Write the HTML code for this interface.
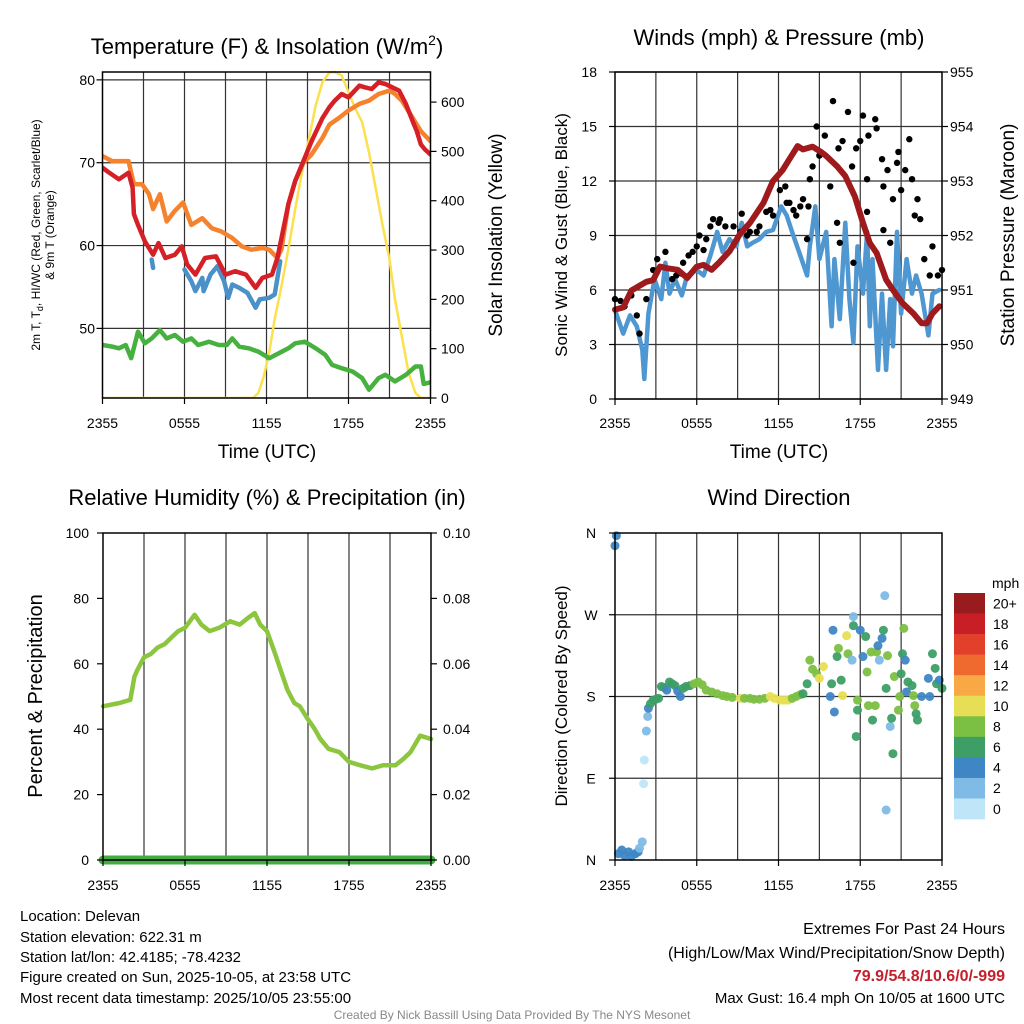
<!DOCTYPE html>
<html><head><meta charset="utf-8">
<style>
html,body{margin:0;padding:0;background:#fff;}
svg{display:block;font-family:"Liberation Sans",Arial,sans-serif;}
</style></head>
<body>
<svg id="fig" width="1024" height="1024" viewBox="0 0 1024 1024" xmlns="http://www.w3.org/2000/svg">
<rect x="0" y="0" width="1024" height="1024" fill="#fff"/>
<g id="layer"></g>
<g font-size="22" fill="#000" text-anchor="middle">
<text x="267" y="54">Temperature (F) &amp; Insolation (W/m<tspan font-size="14" dy="-9">2</tspan><tspan dy="9">)</tspan></text>
<text x="779" y="45">Winds (mph) &amp; Pressure (mb)</text>
<text x="267" y="505">Relative Humidity (%) &amp; Precipitation (in)</text>
<text x="779" y="505">Wind Direction</text>
</g>
<g font-size="19" text-anchor="middle">
<text x="267" y="458">Time (UTC)</text>
<text x="779" y="458">Time (UTC)</text>
<text transform="translate(502,235) rotate(-90)">Solar Insolation (Yellow)</text>
<text transform="translate(1014,235) rotate(-90)">Station Pressure (Maroon)</text>
<text transform="translate(42,696) rotate(-90)" font-size="20">Percent &amp; Precipitation</text>
<text transform="translate(567,235) rotate(-90)" font-size="17">Sonic Wind &amp; Gust (Blue, Black)</text>
<text transform="translate(567,696) rotate(-90)" font-size="17">Direction (Colored By Speed)</text>
</g>
<g font-size="12" text-anchor="middle">
<text transform="translate(40,235) rotate(-90)">2m T, T<tspan font-size="9" dy="3">d</tspan><tspan dy="-3">, HI/WC (Red, Green, Scarlet/Blue)</tspan></text>
<text transform="translate(54,235) rotate(-90)">&amp; 9m T (Orange)</text>
</g>
<g font-size="15">
<text x="20" y="921">Location: Delevan</text>
<text x="20" y="942">Station elevation: 622.31 m</text>
<text x="20" y="962">Station lat/lon: 42.4185; -78.4232</text>
<text x="20" y="982">Figure created on Sun, 2025-10-05, at 23:58 UTC</text>
<text x="20" y="1003">Most recent data timestamp: 2025/10/05 23:55:00</text>
</g>
<g font-size="16" text-anchor="end">
<text x="1005" y="934">Extremes For Past 24 Hours</text>
<text x="1005" y="958">(High/Low/Max Wind/Precipitation/Snow Depth)</text>
<text x="1005" y="981" fill="#c4202b" font-weight="bold">79.9/54.8/10.6/0/-999</text>
<text x="1005" y="1003" font-size="15">Max Gust: 16.4 mph On 10/05 at 1600 UTC</text>
</g>
<text x="512" y="1019" font-size="12" fill="#888" text-anchor="middle">Created By Nick Bassill Using Data Provided By The NYS Mesonet</text>
</svg>
<script>
// ---------- Temperature panel data (hours since 2355 UTC) ----------
const tempT = [0,0.4,1.2,1.9,2.2,2.3,2.6,3.1,3.7,4.1,4.6,5.3,5.8,6.2,6.8,7.5,8.3,9.0,9.7,10.5,11.2,11.7,12.4,12.8,13.1,13.6,14.1,14.7,15.3,16.1,16.6,17.0,17.5,18.0,18.8,19.2,19.7,20.2,20.7,21.2,21.7,22.2,22.7,23.0,23.3,23.6,24.0];
const tempV = [69.4,68.9,68.0,68.8,67.0,63.8,62.5,60.5,58.9,60.3,58.5,58.9,59.9,57.7,56.5,58.5,58.7,56.5,56.9,56.5,54.9,56.1,56.5,58.5,60.9,65.0,67.8,70.2,72.6,75.4,76.7,77.5,78.3,77.9,79.3,79.1,78.9,79.7,79.5,79.1,78.7,77.1,75.0,73.8,72.2,71.6,71.0];
const t9T = [0,0.7,1.4,1.9,2.3,2.9,3.4,3.7,4.2,4.7,5.3,5.9,6.5,7.3,8.0,8.7,9.5,10.2,10.9,11.7,12.2,12.8,13.1,13.6,14.1,14.7,15.3,16.1,16.6,17.3,18.0,18.8,19.5,20.2,21.0,21.4,21.9,22.7,23.3,24.0];
const t9V = [70.8,70.2,70.2,70.2,67.4,67.4,66.2,64.4,66.2,62.9,64.2,65.2,62.5,63.3,62.1,61.7,60.9,59.9,59.5,59.7,59.5,58.5,59.6,65.0,67.8,70.0,71.0,73.0,74.6,75.4,76.3,77.1,77.5,78.3,78.7,78.3,77.5,75.4,73.8,72.6];
const wcT = [3.6,3.7,3.8,6.0,6.5,6.8,7.3,7.4,7.9,8.4,8.9,9.2,9.5,10.0,10.6,11.2,11.5,12.2,12.6,13.0];
const wcV = [58.3,57.3,null,57.1,55.7,54.5,56.1,54.5,56.5,57.5,55.7,53.7,55.3,54.9,54.3,52.5,53.5,53.7,54.1,58.1];
const tdT = [0,0.7,1.2,1.7,2.1,2.6,3.1,3.6,4.2,4.7,5.3,5.9,6.5,7.0,7.8,8.5,9.1,9.5,10.0,10.7,11.4,12.2,12.9,13.6,14.1,14.8,15.6,16.3,16.8,17.5,18.3,19.0,19.5,20.2,20.7,21.4,22.2,22.9,23.3,23.5,24.0];
const tdV = [48.0,47.8,47.6,48.0,46.4,49.6,48.2,48.8,49.8,48.8,49.2,48.4,48.8,48.0,48.4,48.0,48.0,48.8,47.8,47.6,47.2,46.4,47.0,47.6,48.2,48.4,47.6,46.8,45.6,45.2,44.8,44.0,42.6,44.0,44.4,43.6,44.4,45.4,45.4,43.3,43.5];
const solT = [0,11.0,11.4,11.8,12.2,12.6,13.1,13.6,14.1,14.6,15.1,15.6,16.1,16.6,17.0,17.5,18.0,18.5,19.0,19.5,20.0,20.5,21.0,21.4,21.9,22.4,22.9,23.3,24.0];
const solV = [0,0,10,44,92,160,227,302,383,458,525,593,641,660,661,654,620,587,559,498,424,349,281,200,125,51,10,0,0];
const tempTicks = [50,60,70,80];
const solTicks = [0,100,200,300,400,500,600];
const timeTickLabels = ["2355","0555","1155","1755","2355"];
const timeTickHours = [0,6,12,18,24];

// ---------- Wind panel data ----------
const windT = [0,0.6,1.1,1.6,2.0,2.15,2.45,2.9,3.4,3.7,4.0,4.4,4.9,5.3,6.0,6.5,7.0,7.5,7.9,8.4,8.9,9.3,9.7,10.1,10.6,11.1,11.6,12.2,12.6,13.0,13.6,14.1,14.3,14.7,15.0,15.5,15.9,16.1,16.5,16.9,17.2,17.5,17.8,18.2,18.5,18.7,18.9,19.3,19.6,19.9,20.2,20.4,20.7,21.0,21.4,21.8,22.1,22.5,23.0,23.3,23.8];
const windV = [4.9,3.6,4.6,4.0,2.7,1.1,4.7,6.6,5.5,7.5,5.8,6.6,5.7,6.8,7.1,6.8,7.9,9.2,8.1,8.8,8.4,9.7,8.4,8.6,8.8,9.2,9.3,10.6,10.1,9.2,7.9,6.8,8.4,10.6,7.7,9.2,4.0,7.7,4.4,9.7,5.5,3.1,8.4,5.8,9.2,4.0,7.7,1.6,5.8,1.6,5.5,2.9,9.2,4.7,7.7,5.8,6.8,5.8,3.5,5.8,6.0];
const gustT = [0,0.4,0.7,1.2,1.6,1.8,2.3,2.8,3.1,3.7,4.2,4.5,4.9,5.0,5.4,5.7,6.0,6.2,6.5,6.7,7.0,7.2,7.6,7.7,8.1,8.7,9.2,9.3,9.7,9.9,10.4,10.6,11.1,11.4,11.6,12.1,12.5,12.6,12.8,13.1,13.3,13.6,13.8,14.1,14.2,14.3,14.5,14.8,15.0,15.4,15.8,16.0,16.3,16.4,16.5,16.7,17.1,17.4,17.5,17.7,18.0,18.2,18.5,18.5,18.6,19.1,19.2,19.6,19.7,19.7,20.0,20.2,20.4,20.7,20.8,21.0,21.3,21.6,21.8,22.0,22.2,22.4,22.7,23.1,23.3,23.7,24.0];
const gustV = [5.5,5.4,5.1,5.7,4.6,3.6,5.5,7.1,7.7,8.1,6.6,6.8,6.9,7.5,7.9,8.1,8.4,9.0,8.2,8.8,9.5,9.9,9.7,9.9,9.5,9.5,9.2,10.2,9.0,9.2,9.2,9.5,10.3,10.4,10.1,11.5,11.7,10.8,10.8,10.4,10.1,10.6,11.0,8.8,10.6,12.1,12.8,15.0,13.4,14.5,11.7,16.4,9.7,13.8,8.6,14.2,15.8,12.8,7.5,13.8,14.2,15.6,12.1,10.3,14.5,15.4,14.9,13.2,11.7,9.3,12.6,8.6,11.0,13.0,13.6,11.5,12.6,14.3,12.1,10.1,11.0,9.9,7.7,6.8,8.4,6.8,7.1];
const presT = [0,0.6,1.2,2.3,2.8,3.3,3.8,4.6,5.3,6.0,6.5,7.1,7.7,8.4,9.2,9.9,10.9,11.6,12.3,12.8,13.4,13.8,14.5,15.2,15.5,16.3,16.9,17.6,18.2,18.7,19.2,19.9,20.4,21.1,21.9,22.5,22.9,23.3,23.8];
const presV = [950.64,950.68,950.99,951.15,951.18,951.43,951.40,951.37,951.22,951.43,951.46,951.37,951.52,951.71,952.04,952.23,952.60,953.00,953.20,953.40,953.64,953.58,953.63,953.52,953.46,953.27,953.09,952.72,952.23,951.86,951.68,951.19,951.00,950.76,950.57,950.39,950.39,950.57,950.70];
const windTicks = [0,3,6,9,12,15,18];
const presTicks = [949,950,951,952,953,954,955];

// ---------- Humidity panel data ----------
const rhT = [0,1.2,2.0,2.3,2.5,3.0,3.5,4.0,4.5,5.0,5.5,6.0,6.7,7.2,7.8,8.5,9.3,10.0,10.6,11.1,11.5,12.0,12.6,13.0,13.5,14.0,14.4,15.0,15.5,15.9,16.5,17.3,18.0,18.8,19.7,20.5,21.4,22.0,22.5,23.2,24.0];
const rhV = [47,48,49,56,58,62,63,65,66,68,70,71,75,72,70,71,73,72,74,75.5,72,70,63,58,52,48,47,43,40,37,34,33,30,29,28,29,29,31,33,38,37];
const precipT = [0,24];
const precipV = [0,0];
const rhTicks = [0,20,40,60,80,100];
const precipTicks = ["0.00","0.02","0.04","0.06","0.08","0.10"];

// ---------- Wind direction data ----------
const dirT = [0.1,0,0.25,0.5,0.7,1.0,1.2,1.5,1.7,1.8,2.0,2.1,2.15,2.3,2.4,2.45,2.6,2.8,3.0,3.2,3.4,3.6,3.8,4.0,4.2,4.4,4.6,4.8,5.0,5.2,5.5,5.8,6.1,6.4,6.7,7.1,7.5,7.9,8.2,8.6,9.2,9.5,9.9,10.2,10.6,11.0,11.4,11.7,12.1,12.4,12.7,13.0,13.3,13.6,13.8,14.1,14.3,14.5,14.8,15.0,15.3,15.8,15.9,16.0,16.1,16.3,16.4,16.6,16.7,17.0,17.1,17.4,17.5,17.5,17.7,17.8,17.8,18.0,18.2,18.4,18.5,18.6,18.8,18.9,19.1,19.2,19.3,19.4,19.6,19.7,19.8,19.9,19.9,20.0,20.2,20.3,20.4,20.5,20.8,20.9,21.0,21.1,21.2,21.3,21.4,21.5,21.8,21.9,22.0,22.1,22.2,22.5,23.0,23.1,23.3,23.5,23.6,23.8,24.0];
const dirV = [357,346,7,11,5,9,4,7,9,13,20,84,110,142,158,167,172,176,177,178,191,190,187,196,194,192,186,180,189,191,192,194,196,193,187,185,183,181,180,179,178,178,178,177,177,178,180,178,176,176,176,178,180,182,183,194,220,210,205,200,213,180,194,253,163,224,233,198,181,247,227,220,268,258,136,165,176,253,224,246,207,170,229,154,170,229,236,220,244,253,291,55,189,225,147,156,117,202,165,180,205,227,255,220,185,196,192,181,170,161,154,180,200,180,227,211,194,198,189];
const dirSpd = [5,5,5,5,5,5,5,5,5,3,3,1,1,3,3,5,7,7,7,7,7,7,5,7,7,7,5,5,7,7,7,9,9,9,9,9,9,9,9,9,11,9,9,9,9,9,11,11,11,11,11,9,9,9,7,7,9,9,9,11,11,5,7,5,5,7,9,7,11,11,9,3,3,7,7,7,9,5,5,7,9,9,9,7,9,9,5,3,5,7,3,3,7,9,3,7,7,9,9,9,7,7,9,5,5,7,7,9,9,7,7,5,5,5,7,7,7,5,7];
const speedLabels = ["0","2","4","6","8","10","12","14","16","18","20+"];
const speedColors = ["#bfe6f8","#7fbbe6","#3f86c4","#3d9f66","#7cc043","#e6df55","#f8a946","#ef6a2e","#e3402c","#c71f25","#981b1e"];
const dirTickLabels = ["N","E","S","W","N"];
const dirTickVals = [0,90,180,270,360];

// ---------- drawing helpers ----------
const NS = "http://www.w3.org/2000/svg";
const layer = document.getElementById("layer");
function mk(tag, attrs, parent) {
  const e = document.createElementNS(NS, tag);
  for (const k in attrs) e.setAttribute(k, attrs[k]);
  (parent || layer).appendChild(e);
  return e;
}
function lin(d0, d1, r0, r1) { return v => r0 + (v - d0) * (r1 - r0) / (d1 - d0); }
function linePath(ts, vs, sx, sy) {
  let d = "", pen = false;
  for (let i = 0; i < ts.length; i++) {
    if (vs[i] === null) { pen = false; continue; }
    d += (pen ? "L" : "M") + sx(ts[i]).toFixed(1) + "," + sy(vs[i]).toFixed(1);
    pen = true;
  }
  return d;
}
function panelFrame(name, x0, x1, y0, y1, hGridVals, sy, sx) {
  const g = mk("g", {});
  
  
  for (let h = 3; h < 24; h += 3) {
    const gl = mk("line", {x1: sx(h), x2: sx(h), y1: y0, y2: y1, stroke: "#333", "stroke-width": 1.2}, g);
    
    
  }
  hGridVals.forEach(v => {
    const gl = mk("line", {x1: x0, x2: x1, y1: sy(v), y2: sy(v), stroke: "#333", "stroke-width": 1.2}, g);
    
    
  });
  return g;
}
function border(name, x0, x1, y0, y1) {
  const r = mk("rect", {x: x0, y: y0, width: x1 - x0, height: y1 - y0, fill: "none", stroke: "#000", "stroke-width": 1.5});
  
  
}
function xTicks(sx, y1, labelY) {
  timeTickHours.forEach((h, i) => {
    mk("line", {x1: sx(h), x2: sx(h), y1: y1, y2: y1 + 6, stroke: "#000", "stroke-width": 1.2});
    const t = mk("text", {x: sx(h), y: labelY, "font-size": 14, "text-anchor": "middle"});
    
    
    t.textContent = timeTickLabels[i];
  });
}
function yTicks(vals, labels, sy, x, side, lx) {
  vals.forEach((v, i) => {
    mk("line", {x1: x, x2: x + (side === "left" ? -6 : 6), y1: sy(v), y2: sy(v), stroke: "#000", "stroke-width": 1.2});
    const t = mk("text", {x: lx, y: sy(v) + 5, "font-size": 14, "text-anchor": side === "left" ? "end" : "start"});
    
    
    t.textContent = labels[i];
  });
}
function drawLine(ts, vs, sx, sy, color, w, name) {
  const p = mk("path", {d: linePath(ts, vs, sx, sy), fill: "none", stroke: color, "stroke-width": w, "stroke-linejoin": "round", "stroke-linecap": "round"});
  
  
  return p;
}

// ---------- Panel 1: Temperature ----------
(function () {
  const x0 = 102.5, x1 = 430.5, y0 = 72, y1 = 398;
  const sx = lin(0, 24, x0, x1);
  const sy = lin(41.6, 80.95, y1, y0);
  const ss = lin(0, 661, y1, y0);
  panelFrame("temperature", x0, x1, y0, y1, tempTicks, sy, sx);
  const clip = mk("clipPath", {id: "c1"});
  mk("rect", {x: x0, y: y0 - 2, width: x1 - x0, height: y1 - y0 + 2}, clip);
  const g = mk("g", {"clip-path": "url(#c1)"});
  
  
  g.appendChild(drawLine(solT, solV, sx, ss, "#fce04c", 2.5, "insolation-line"));
  g.appendChild(drawLine(tdT, tdV, sx, sy, "#47b140", 4.5, "dewpoint-line"));
  g.appendChild(drawLine(wcT, wcV, sx, sy, "#4b91c9", 4.5, "heat-index-windchill-line"));
  g.appendChild(drawLine(t9T, t9V, sx, sy, "#f5832e", 4.5, "temperature-9m-line"));
  g.appendChild(drawLine(tempT, tempV, sx, sy, "#d62027", 4.5, "temperature-2m-line"));
  border("temperature", x0, x1, y0, y1);
  xTicks(sx, y1, 428);
  yTicks(tempTicks, tempTicks.map(String), sy, x0, "left", 95);
  yTicks(solTicks, solTicks.map(String), ss, x1, "right", 441);
})();

// ---------- Panel 2: Winds ----------
(function () {
  const x0 = 615, x1 = 942, y0 = 72, y1 = 399;
  const sx = lin(0, 24, x0, x1);
  const sy = lin(0, 18, y1, y0);
  const sp = lin(949, 955, y1, y0);
  panelFrame("winds", x0, x1, y0, y1, windTicks, sy, sx);
  drawLine(windT, windV, sx, sy, "#4f97d1", 4.5, "sonic-wind-line");
  gustT.forEach((t, i) => {
    const c = mk("circle", {cx: sx(t), cy: sy(gustV[i]), r: 3.2, fill: "#000"});
    
    
  });
  drawLine(presT, presV, sx, sp, "#9e1a1c", 6, "pressure-line");
  border("winds", x0, x1, y0, y1);
  xTicks(sx, y1, 428);
  yTicks(windTicks, windTicks.map(String), sy, x0, "left", 597);
  yTicks(presTicks, presTicks.map(String), sp, x1, "right", 950);
})();

// ---------- Panel 3: Humidity ----------
(function () {
  const x0 = 103, x1 = 431, y0 = 533, y1 = 860;
  const sx = lin(0, 24, x0, x1);
  const sy = lin(0, 100, y1, y0);
  const spr = lin(0, 0.1, y1, y0);
  panelFrame("humidity", x0, x1, y0, y1, [], sy, sx);
  drawLine(rhT, rhV, sx, sy, "#8cc63f", 4.5, "relative-humidity-line");
  drawLine(precipT, precipV, sx, spr, "#45ac45", 9, "precipitation-line");
  border("humidity", x0, x1, y0, y1);
  xTicks(sx, y1, 890);
  yTicks(rhTicks, rhTicks.map(String), sy, x0, "left", 89);
  yTicks(rhTicks, precipTicks, sy, x1, "right", 443);
})();

// ---------- Panel 4: Wind direction ----------
(function () {
  const x0 = 615, x1 = 942, y0 = 533, y1 = 860;
  const sx = lin(0, 24, x0, x1);
  const sy = lin(0, 360, y1, y0);
  panelFrame("direction", x0, x1, y0, y1, [90, 180, 270], sy, sx);
  dirT.forEach((t, i) => {
    const idx = Math.min(10, Math.floor(dirSpd[i] / 2));
    const c = mk("circle", {cx: sx(t), cy: sy(dirV[i]), r: 4.5, fill: speedColors[idx], opacity: 0.95});
    
    
  });
  border("direction", x0, x1, y0, y1);
  xTicks(sx, y1, 890);
  dirTickVals.forEach((v, i) => {
    mk("line", {x1: x0, x2: x0 - 6, y1: sy(v), y2: sy(v), stroke: "#000", "stroke-width": 1.2});
    const t = mk("text", {x: 591, y: sy(v) + 5, "font-size": 14, "text-anchor": "middle"});
    
    
    t.textContent = dirTickLabels[i];
  });
  const cb = mk("g", {});
  
  
  const bx = 954, bw = 31, top = 593, bh = 20.55;
  const mph = mk("text", {x: 992, y: 588, "font-size": 14}, cb);
  
  
  mph.textContent = "mph";
  for (let k = 0; k < speedLabels.length; k++) {
    const j = speedLabels.length - 1 - k;
    const r = mk("rect", {x: bx, y: top + k * bh, width: bw, height: bh + 0.3, fill: speedColors[j]}, cb);
    
    
    const t = mk("text", {x: 993, y: top + k * bh + bh / 2 + 5, "font-size": 14}, cb);
    
    
    t.textContent = speedLabels[j];
  }
})();
</script>
</body></html>
